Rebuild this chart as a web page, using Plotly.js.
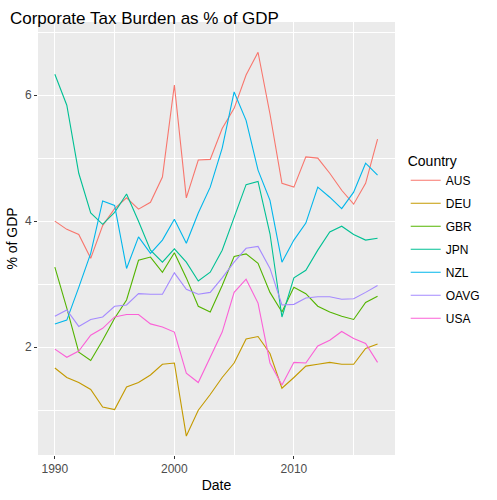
<!DOCTYPE html>
<html>
<head>
<script src="https://cdn.plot.ly/plotly-3.0.1.min.js"></script>
<style>body{margin:0}</style>
</head>
<body>
<div id="plot" style="width:497px;height:500px"></div>
<script>
const years = []
for (let y = 1990; y <= 2017; y++) years.push(y)

const countries = ["AUS", "DEU", "GBR", "JPN", "NZL", "OAVG", "USA"]
const colors = ["#F8766D", "#C49A00", "#53B400", "#00C094", "#00B6EB", "#A58AFF", "#FB61D7"]

const aus = [4.0, 3.87, 3.79, 3.41, 3.93, 4.2, 4.37, 4.19, 4.3, 4.7, 6.16, 4.37, 4.97, 4.98, 5.47, 5.79, 6.32, 6.68, 5.7, 4.6, 4.54, 5.02, 5.0, 4.76, 4.49, 4.27, 4.6, 5.3]
const deu = [1.67, 1.52, 1.44, 1.33, 1.05, 1.01, 1.37, 1.44, 1.56, 1.73, 1.75, 0.59, 1.0, 1.25, 1.52, 1.75, 2.13, 2.17, 1.9, 1.35, 1.52, 1.7, 1.73, 1.76, 1.73, 1.73, 1.98, 2.05]
const gbr = [3.27, 2.62, 1.92, 1.79, 2.11, 2.46, 2.75, 3.38, 3.43, 3.19, 3.5, 3.1, 2.65, 2.56, 2.98, 3.44, 3.48, 3.33, 2.87, 2.56, 2.95, 2.85, 2.65, 2.56, 2.49, 2.44, 2.71, 2.81]
const jpn = [6.33, 5.84, 4.76, 4.13, 3.95, 4.14, 4.43, 4.0, 3.54, 3.35, 3.56, 3.35, 3.05, 3.19, 3.54, 4.05, 4.58, 4.63, 3.8, 2.48, 3.1, 3.22, 3.54, 3.83, 3.92, 3.79, 3.7, 3.73]
const nzl = [2.37, 2.43, 2.95, 3.49, 4.32, 4.25, 3.25, 3.75, 3.49, 3.7, 4.03, 3.65, 4.13, 4.54, 5.16, 6.05, 5.6, 4.81, 4.33, 3.35, 3.7, 3.97, 4.54, 4.38, 4.2, 4.46, 4.92, 4.73]
const oavg = [2.49, 2.59, 2.33, 2.44, 2.48, 2.65, 2.67, 2.85, 2.84, 2.84, 3.18, 2.92, 2.84, 2.87, 3.1, 3.35, 3.57, 3.6, 3.25, 2.67, 2.68, 2.78, 2.8, 2.8, 2.76, 2.77, 2.87, 2.98]
const usa = [1.97, 1.84, 1.94, 2.19, 2.3, 2.48, 2.52, 2.52, 2.37, 2.32, 2.24, 1.59, 1.44, 1.85, 2.24, 2.87, 3.08, 2.7, 1.75, 1.4, 1.76, 1.75, 2.02, 2.11, 2.25, 2.14, 2.06, 1.76]

const series = [aus, deu, gbr, jpn, nzl, oavg, usa]

let data = []
for (let i = 0; i < countries.length; i++) {
    // own legend group per trace so tracegroupgap spaces the keys like ggplot
    data.push({type: "scatter", mode: "lines", x: years, y: series[i], name: countries[i], legendgroup: countries[i],
               line: {color: colors[i], width: 1.1}})
}

const ax = {showgrid: true, gridcolor: "#FFFFFF", gridwidth: 1.1, zeroline: false, ticks: "outside", ticklen: 3, tickcolor: "#333333",
            tickfont: {size: 12, color: "#4D4D4D"}}

const layout = {
    font: {family: "Liberation Sans, Arial, sans-serif"},
    title: {text: "Corporate Tax Burden as % of GDP", x: 0.02, xanchor: "left", y: 0.975, font: {size: 17, color: "#000000"}},
    paper_bgcolor: "#FFFFFF",
    plot_bgcolor: "#EBEBEB",
    margin: {l: 38, r: 99, t: 22, b: 45},
    xaxis: Object.assign({}, ax, {range: [1988.59, 2018.46], tickvals: [1990, 2000, 2010], minor: {showgrid: true, gridcolor: "#FFFFFF", gridwidth: 0.5, tickvals: [1995, 2005, 2015]},
            title: {text: "Date", font: {size: 14, color: "#000000"}, standoff: 4}}),
    yaxis: Object.assign({}, ax, {range: [0.29, 7.16], tickvals: [2, 4, 6], minor: {showgrid: true, gridcolor: "#FFFFFF", gridwidth: 0.5, tickvals: [1, 3, 5, 7]},
            title: {text: "% of GDP", font: {size: 14, color: "#000000"}, standoff: 4}}),
    showlegend: true,
    legend: {x: 1.03, xanchor: "left", y: 0.71, yanchor: "top", title: {text: "Country", font: {size: 14, color: "#000000"}},
             font: {size: 12, color: "#000000"}, tracegroupgap: 4}
}

Plotly.newPlot(document.getElementById("plot"), data, layout, {displayModeBar: false})
</script>
</body>
</html>
